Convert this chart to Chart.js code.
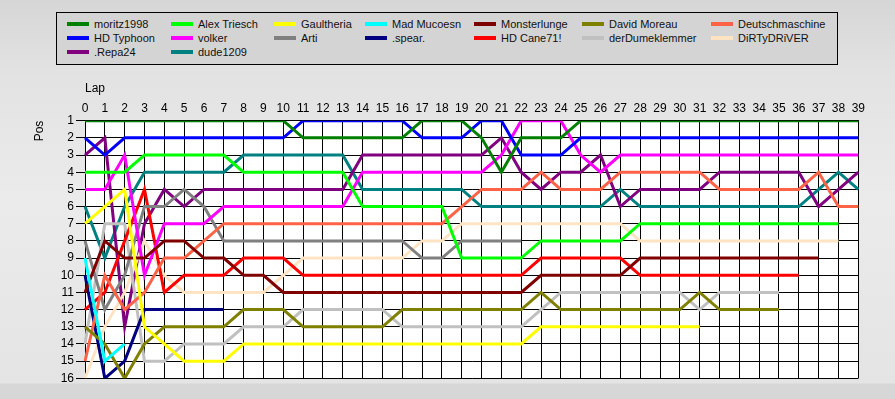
<!DOCTYPE html>
<html>
<head>
<meta charset="utf-8">
<script src="https://cdn.jsdelivr.net/npm/chart.js@4/dist/chart.umd.min.js"></script>
<style>
  html, body { margin: 0; padding: 0; }
  body {
    width: 895px; height: 399px; position: relative; overflow: hidden;
    background: linear-gradient(to bottom, #d6d6d6 0px, #e2e2e2 70px, #ebebeb 200px, #e4e4e4 383px, #d7d7d7 384px, #d7d7d7 399px);
    font-family: "Liberation Sans", Arial, sans-serif;
  }
  #c { position: absolute; left: 0; top: 0; }
  #legend {
    position: absolute; left: 56px; top: 12px; width: 782px; height: 53px;
    border: 1px solid #000; background: #d4d4d4; box-sizing: border-box;
  }
  .item { position: absolute; height: 14px; line-height: 14px; font-size: 11px; color: #111; white-space: nowrap; }
  .swatch { display: inline-block; width: 22px; height: 4px; vertical-align: middle; margin-right: 5px; position: relative; top: -1px; }
</style>
</head>
<body>
<canvas id="c" width="895" height="399"></canvas>
<div id="legend"></div>
<script>
// ---- data ----
const laps = ['0','1','2','3','4','5','6','7','8','9','10','11','12','13','14','15','16','17','18','19','20','21','22','23','24','25','26','27','28','29','30','31','32','33','34','35','36','37','38','39'];
const posTicks = [1,2,3,4,5,6,7,8,9,10,11,12,13,14,15,16];

const drivers = ['moritz1998','Alex Triesch','Gaultheria','Mad Mucoesn','Monsterlunge','David Moreau','Deutschmaschine','HD Typhoon','volker','Arti','.spear.','HD Cane71!','derDumeklemmer','DiRTyDRiVER','.Repa24','dude1209'];
const colors = ['#008000','#00ff00','#ffff00','#00ffff','#800000','#808000','#ff6347','#0000ff','#ff00ff','#808080','#000080','#ff0000','#c0c0c0','#ffe4c4','#800080','#008080'];

const moritz1998 = [1,1,1,1,1,1,1,1,1,1,1,2,2,2,2,2,2,1,1,1,2,4,2,2,2,1,1,1,1,1,1,1,1,1,1,1,1,1,1,1];
const alexTriesch = [4,4,4,3,3,3,3,3,4,4,4,4,4,4,6,6,6,6,6,9,9,9,9,8,8,8,8,8,7,7,7,7,7,7,7,7,7,7,7,null];
const gaultheria = [7,6,5,13,14,15,15,15,14,14,14,14,14,14,14,14,14,14,14,14,14,14,14,13,13,13,13,13,13,13,13,13,null,null,null,null,null,null,null,null];
const madMucoesn = [9,15,14,null,null,null,null,null,null,null,null,null,null,null,null,null,null,null,null,null,null,null,null,null,null,null,null,null,null,null,null,null,null,null,null,null,null,null,null,null];
const monsterlunge = [11,8,9,9,8,8,9,9,10,10,11,11,11,11,11,11,11,11,11,11,11,11,11,10,10,10,10,10,9,9,9,9,9,9,9,9,9,9,null,null];
const davidMoreau = [13,14,16,14,13,13,13,13,12,12,12,13,13,13,13,13,12,12,12,12,12,12,12,11,12,12,12,12,12,12,12,11,12,12,12,12,null,null,null,null];
const deutschmaschine = [15,10,12,11,9,9,8,7,7,7,7,7,7,7,7,7,7,7,7,6,5,5,5,4,5,5,5,4,4,4,4,4,5,5,5,5,5,4,6,6];
const hdTyphoon = [2,3,2,2,2,2,2,2,2,2,2,1,1,1,1,1,1,2,2,2,1,1,3,3,3,2,2,2,2,2,2,2,2,2,2,2,2,2,2,2];
const volker = [5,5,3,10,7,7,7,6,6,6,6,6,6,6,4,4,4,4,4,4,4,3,1,1,1,3,4,3,3,3,3,3,3,3,3,3,3,3,3,3];
const arti = [8,12,10,6,6,5,6,8,8,8,8,8,8,8,8,8,8,9,9,8,8,8,8,null,null,null,null,null,null,null,null,null,null,null,null,null,null,null,null,null];
const spear = [10,16,15,12,12,12,12,12,null,null,null,null,null,null,null,null,null,null,null,null,null,null,null,null,null,null,null,null,null,null,null,null,null,null,null,null,null,null,null,null];
const hdCane71 = [12,11,8,5,11,10,10,10,9,9,9,10,10,10,10,10,10,10,10,10,10,10,10,9,9,9,9,9,10,10,10,10,10,10,10,10,10,null,null,null];
const derDumeklemmer = [14,7,7,15,15,14,14,14,13,13,13,12,12,12,12,12,13,13,13,13,13,13,13,12,11,11,11,11,11,11,11,12,11,11,11,11,null,null,null,null];
const dirtyDriver = [16,13,11,8,10,11,11,11,11,11,10,9,9,9,9,9,9,8,8,7,7,7,7,7,7,7,7,7,8,8,8,8,8,8,8,8,8,8,8,null];
const repa24 = [3,2,13,7,5,6,5,5,5,5,5,5,5,5,3,3,3,3,3,3,3,2,4,5,4,4,3,6,5,5,5,5,4,4,4,4,4,6,5,4];
const dude1209 = [6,9,6,4,4,4,4,4,3,3,3,3,3,3,5,5,5,5,5,5,6,6,6,6,6,6,6,5,6,6,6,6,6,6,6,6,6,5,4,5];

const series = [moritz1998, alexTriesch, gaultheria, madMucoesn, monsterlunge, davidMoreau, deutschmaschine, hdTyphoon, volker, arti, spear, hdCane71, derDumeklemmer, dirtyDriver, repa24, dude1209];

// ---- legend (HTML) ----
const colX = [10, 114, 217, 308, 417, 525, 654];
const rowY = [4, 18, 32];
const legend = document.getElementById('legend');
drivers.forEach((name, i) => {
  const d = document.createElement('div');
  d.className = 'item';
  d.style.left = colX[i % 7] + 'px';
  d.style.top = rowY[Math.floor(i / 7)] + 'px';
  const sw = document.createElement('span');
  sw.className = 'swatch';
  sw.style.background = colors[i];
  d.appendChild(sw);
  d.appendChild(document.createTextNode(name));
  legend.appendChild(d);
});

// ---- chart ----
const whiteArea = {
  id: 'whiteArea',
  beforeDraw(chart) {
    const {ctx, chartArea: a} = chart;
    ctx.save();
    ctx.fillStyle = '#ffffff';
    ctx.fillRect(a.left, a.top, a.right - a.left, a.bottom - a.top);
    ctx.restore();
  },
  afterDraw(chart) {
    const {ctx} = chart;
    ctx.save();
    ctx.translate(40, 131);
    ctx.rotate(-Math.PI / 2);
    ctx.font = '12px "Liberation Sans", Arial, sans-serif';
    ctx.fillStyle = '#000';
    ctx.textAlign = 'center';
    ctx.textBaseline = 'middle';
    ctx.fillText('Pos', 0, 0);
    ctx.restore();
  }
};

new Chart(document.getElementById('c'), {
  type: 'line',
  data: {
    labels: laps,
    datasets: drivers.map((name, i) => ({
      label: name,
      data: series[i],
      borderColor: colors[i],
      backgroundColor: colors[i],
      borderWidth: 3,
      pointRadius: 0,
      pointHoverRadius: 0,
      tension: 0,
      spanGaps: false,
      fill: false
    }))
  },
  options: {
    responsive: false,
    animation: false,
    events: [],
    layout: { padding: { left: 0, top: 70, right: 36.7, bottom: 20.7 } },
    plugins: { legend: { display: false }, tooltip: { enabled: false } },
    scales: {
      x: {
        position: 'top',
        offset: false,
        afterFit: s => { s.height = 50.7; },
        grid: { color: '#000', lineWidth: 1, drawTicks: false },
        border: { color: '#000', width: 1 },
        ticks: { color: '#000', autoSkip: false, maxRotation: 0, padding: 5, font: { family: '"Liberation Sans", Arial, sans-serif', size: 12 } },
        title: { display: true, text: 'Lap', align: 'start', color: '#000', padding: { top: 11, bottom: 0 }, font: { family: '"Liberation Sans", Arial, sans-serif', size: 12 } }
      },
      y: {
        reverse: true,
        min: 1,
        max: 16,
        afterFit: s => { s.width = 85; },
        afterBuildTicks: s => { s.ticks = posTicks.map(v => ({ value: v })); },
        grid: { color: '#000', lineWidth: 1, drawTicks: true, tickLength: 9 },
        border: { color: '#000', width: 1 },
        ticks: { color: '#000', padding: 2, stepSize: 1, autoSkip: false, font: { family: '"Liberation Sans", Arial, sans-serif', size: 12 } }
      }
    }
  },
  plugins: [whiteArea]
});
</script>
</body>
</html>
